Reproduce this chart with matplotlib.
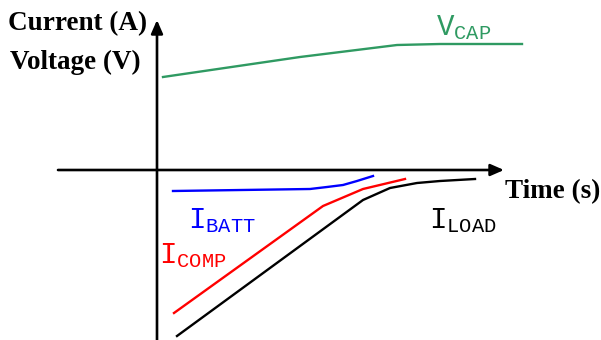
import matplotlib
matplotlib.use("Agg")
import matplotlib.pyplot as plt

# values: time (t) and signal level, origin at the axis crossing
vcap_t = [6, 143, 240, 283, 365]
vcap_v = [93, 113, 125, 126, 126]

ibatt_t = [16, 153, 170, 186, 200, 216]
ibatt_v = [-21, -19, -17, -15, -11, -6]

icomp_t = [17, 166, 206, 248]
icomp_v = [-143, -36, -19, -9]

iload_t = [20, 206, 233, 260, 283, 318]
iload_v = [-166, -30, -18, -13, -11, -9]

GREEN = "#2f9a62"
SERIF = "Liberation Serif"

plt.rcParams["mathtext.fontset"] = "custom"
plt.rcParams["mathtext.rm"] = "Liberation Mono"

fig = plt.figure(figsize=(6.01, 3.40), dpi=100)
ax = fig.add_axes([0, 0, 1, 1])
ax.set_xlim(-157, 444)
ax.set_ylim(-170, 170)
ax.axis("off")

# axes drawn as arrows
arrow = dict(arrowstyle="-|>,head_length=0.8,head_width=0.35", color="black", lw=1.9,
             shrinkA=0, shrinkB=0)
ax.annotate("", xy=(0, 150), xytext=(0, -172), arrowprops=arrow)
ax.annotate("", xy=(347, 0), xytext=(-99, 0), arrowprops=arrow)

ax.plot(vcap_t, vcap_v, color=GREEN, lw=1.7)
ax.plot(ibatt_t, ibatt_v, color="blue", lw=1.7)
ax.plot(icomp_t, icomp_v, color="red", lw=1.7)
ax.plot(iload_t, iload_v, color="black", lw=1.7)

ax.text(-149, 146, "Current (A)", fontfamily=SERIF, fontweight="bold", fontsize=19.5,
        va="center", ha="left")
ax.text(-147, 108, "Voltage (V)", fontfamily=SERIF, fontweight="bold", fontsize=19.5,
        va="center", ha="left")
ax.text(348, -22, "Time (s)", fontfamily=SERIF, fontweight="bold", fontsize=19.5,
        va="center", ha="left")


def sub_label(main, sub, pos, color):
    ax.text(*pos, rf"$\mathrm{{{main}}}_\mathrm{{{sub}}}$", fontsize=21, color=color,
            ha="left", va="baseline")


sub_label("V", "CAP", (279, 135), GREEN)
sub_label("I", "BATT", (31, -58), "blue")
sub_label("I", "COMP", (2, -93), "red")
sub_label("I", "LOAD", (272, -58), "black")

fig.savefig("out.png", dpi=100)
